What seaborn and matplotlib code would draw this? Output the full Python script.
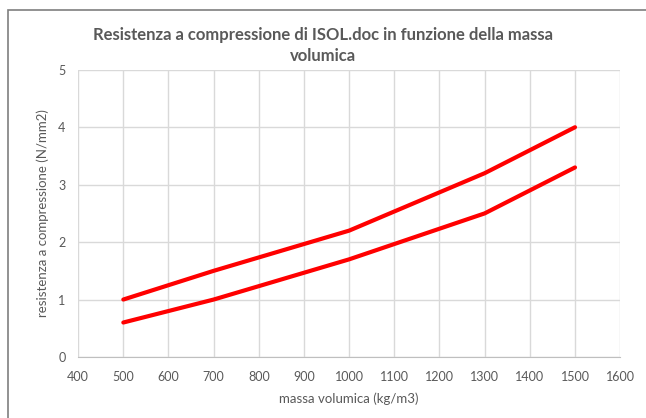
import matplotlib
matplotlib.use("Agg")
import matplotlib.pyplot as plt
import seaborn as sns
import pandas as pd
from matplotlib.patches import Rectangle

# dati
massa = [500, 700, 1000, 1300, 1500]
res_max = [1.0, 1.5, 2.2, 3.2, 4.0]
res_min = [0.6, 1.0, 1.7, 2.5, 3.3]

df = pd.DataFrame({
    "massa": massa * 2,
    "res": res_max + res_min,
    "serie": ["max"] * len(massa) + ["min"] * len(massa),
})

sns.set_style("white")
plt.rcParams["font.family"] = ["Lato", "DejaVu Sans"]
grey = "#595959"

fig = plt.figure(figsize=(6.46, 4.18), dpi=100)
ax = fig.add_axes([0.121, 0.146, 0.839, 0.687])

sns.lineplot(data=df, x="massa", y="res", hue="serie",
             palette=["#FF0000", "#FF0000"], linewidth=3,
             legend=False, ax=ax, zorder=3)

ax.set_xlim(400, 1600)
ax.set_ylim(0, 5)
ax.set_xticks(range(400, 1601, 100))
ax.set_yticks(range(0, 6))
ax.grid(True, color="#D9D9D9", linewidth=1)
for s in ["top", "right", "left"]:
    ax.spines[s].set_visible(False)
ax.spines["bottom"].set_color("#BFBFBF")
ax.tick_params(length=0, labelsize=9, colors=grey)
ax.tick_params(axis="x", pad=10)
ax.tick_params(axis="y", pad=9)

ax.set_xlabel("massa volumica (kg/m3)", fontsize=9.5, color=grey, labelpad=7)
ax.set_ylabel("resistenza a compressione (N/mm2)", fontsize=9.5, color=grey, labelpad=7)

fig.text(0.5, 0.891, "Resistenza a compressione di ISOL.doc in funzione della massa\nvolumica",
         ha="center", va="center", fontsize=12, fontweight="bold", color=grey,
         linespacing=1.45)

# cornice del grafico (visibile solo sopra e a sinistra)
fig.patches.append(Rectangle((8 / 646, -0.1), 1.2, 1.1 - 10 / 418, transform=fig.transFigure,
                             fill=False, edgecolor="#7F7F7F", linewidth=1.2))

fig.savefig("out.png", dpi=100)
